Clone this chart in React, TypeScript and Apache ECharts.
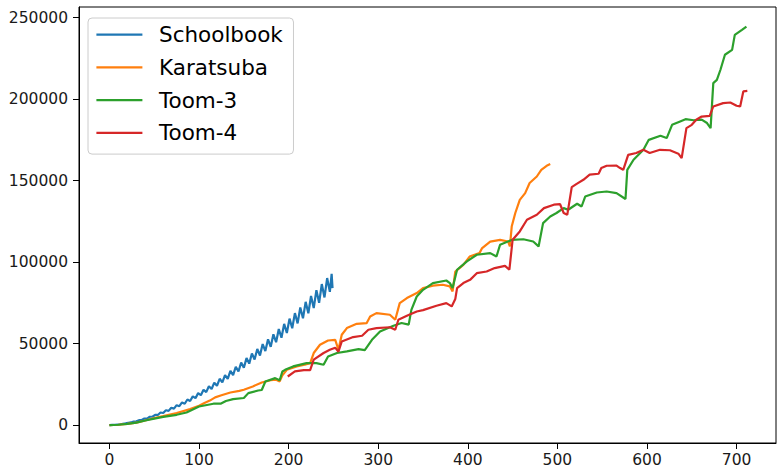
import React, { useEffect, useRef } from "react";
import * as echarts from "echarts";

const seriesNames = ["Schoolbook", "Karatsuba", "Toom-3", "Toom-4"];
const seriesColors = ["#1f77b4", "#ff7f0e", "#2ca02c", "#d62728"];

const xTicks = [0, 100, 200, 300, 400, 500, 600, 700];
const yTicks = [0, 50000, 100000, 150000, 200000, 250000];

const schoolbook: number[][] = [
  [0, 0], [3, 100], [6, 100], [9, 300], [12, 500], [15, 800], [18, 1000], [21, 1400], [24, 1600],
  [27, 2200], [30, 2300], [33, 3000], [36, 3100], [39, 4000], [42, 4000], [45, 5100], [48, 5100],
  [51, 6300], [54, 6200], [57, 7700], [60, 7400], [63, 9100], [66, 8700], [69, 10600], [72, 10100],
  [75, 12200], [78, 11600], [81, 13900], [84, 13100], [87, 15700], [90, 14800], [93, 17600], [96, 16500],
  [99, 19600], [102, 18300], [105, 21700], [108, 20200], [111, 23800], [114, 22100], [117, 26000],
  [120, 24100], [123, 28400], [126, 26200], [129, 30700], [132, 28400], [135, 33200], [138, 30600],
  [141, 35800], [144, 32900], [147, 38400], [150, 35200], [153, 41100], [156, 37700], [159, 43900],
  [162, 40200], [165, 46700], [168, 42700], [171, 49700], [174, 45400], [177, 52600], [180, 48000],
  [183, 55700], [186, 50800], [189, 58900], [192, 53600], [195, 62100], [198, 56500], [201, 65300],
  [204, 59400], [207, 68700], [210, 62400], [213, 72100], [216, 65500], [219, 75600], [222, 68600],
  [225, 79200], [228, 71800], [231, 82800], [234, 75000], [237, 86500], [240, 78300], [243, 90200],
  [246, 81700], [248, 92800], [249, 84000],
];

const karatsuba: number[][] = [
  [0, 0], [10, 200], [20, 700], [30, 1500], [40, 2800], [50, 4300], [60, 5500], [75, 7400],
  [90, 9800], [100, 11800], [106, 13500], [112, 15000], [118, 17000], [125, 18300], [135, 20000],
  [145, 21000], [150, 21700], [160, 23700], [170, 26100], [180, 27500], [186, 27800], [190, 26800],
  [193, 30500], [198, 33900], [209, 36000], [218, 37000], [224, 38000], [228, 44200], [235, 49300],
  [244, 51900], [252, 52300], [255.6, 46200], [259.3, 55400], [265, 59500], [276, 62100], [287, 62500],
  [291, 66600], [298, 68700], [313, 67700], [319, 64600], [324, 74800], [332, 77900], [343, 81000],
  [350, 84000], [361, 85500], [372, 86100], [380, 85100], [383, 82000], [386, 94200], [395, 98300],
  [402, 103400], [413, 105500], [416, 108600], [425, 112600], [436, 113600], [445, 112600],
  [447, 109600], [449, 121800], [453, 130100], [458, 138200], [464, 142300], [469, 148500],
  [477, 152500], [482, 156600], [488, 159100], [492, 160100],
];

const toom3: number[][] = [
  [0, 0], [10, 200], [20, 700], [30, 1500], [40, 2800], [50, 4000], [60, 5000], [75, 6300],
  [86, 7700], [100, 11400], [116, 13100], [124, 13100], [130, 14800], [138, 15900], [150, 16600],
  [155, 19600], [166, 21200], [170, 21500], [174, 26700], [185, 28800], [190, 27500], [193, 32900],
  [196, 33900], [205, 36000], [220, 38000], [231, 38000], [239, 37000], [244, 42100], [254, 44200],
  [265, 45200], [278, 46600], [285, 46000], [293, 52300], [302, 57400], [317, 60900], [326, 62600],
  [334, 61600], [337, 70700], [343, 78900], [350, 83000], [361, 87100], [376, 88700], [380, 87100],
  [383, 84100], [388, 95300], [399, 100400], [410, 104500], [425, 105500], [432, 103400],
  [436, 110600], [449, 113600], [462, 114000], [473, 112600], [479, 109600], [484, 123900],
  [492, 128000], [499, 130100], [507, 133100], [512, 132100], [522, 135800], [527, 134100],
  [531, 140200], [544, 142700], [555, 143300], [566, 142300], [576, 138700], [578, 156600],
  [585, 162800], [596, 168900], [602, 175000], [615, 177500], [622, 176100], [628, 184200],
  [637, 186300], [643, 187700], [652, 187000], [661, 187400], [667, 185300], [671, 182200],
  [674, 209800], [678, 211800], [682, 218000], [687, 227200], [695, 230200], [698, 239400],
  [706, 242500], [711, 244500],
];

const toom4: number[][] = [
  [199, 29800], [207, 32900], [217, 33700], [224, 33700], [228, 40100], [239, 44200], [246, 46200],
  [252, 47500], [255.6, 45000], [259.3, 51300], [272, 54000], [282, 54800], [289, 58500],
  [298, 59500], [313, 60000], [319, 58500], [322.5, 64600], [332, 67000], [343, 69700], [350, 70500],
  [365, 73200], [376, 74800], [382, 72800], [386, 77300], [388, 84000], [395, 87100], [402.5, 89100],
  [410, 93200], [421, 94200], [430, 96300], [441.5, 97700], [446.4, 95300], [450, 113700],
  [458, 118800], [466, 126000], [477, 129000], [485, 133100], [496, 135200], [503, 135500],
  [507, 130100], [511, 129000], [516, 146000], [521.5, 148000], [529, 150500], [536, 153600],
  [546, 154200], [549, 157700], [555, 159100], [566, 159200], [570, 157700], [573.5, 156600],
  [579, 165800], [588, 166900], [596, 168900], [603, 166900], [614.5, 168900], [625.6, 168600],
  [635, 166500], [638.7, 163800], [644, 182200], [650, 184200], [655, 187300], [661, 189300],
  [670, 189700], [674, 195500], [685, 197500], [693, 197900], [700, 195900], [704, 195500],
  [707.5, 204700], [712, 205000],
];

const allData = [schoolbook, karatsuba, toom3, toom4];

export default function App() {
  const ref = useRef<HTMLDivElement>(null);
  useEffect(() => {
    if (!ref.current) return;
    const chart = echarts.init(ref.current, undefined, { renderer: "svg" });
    const font = "DejaVu Sans";
    const axisCommon = {
      type: "value" as const,
      splitLine: { show: false },
      axisLine: { show: true, onZero: false, lineStyle: { color: "#000", width: 1 } },
      axisTick: { show: true, length: 6, lineStyle: { color: "#000", width: 1 } },
    };
    chart.setOption({
      animation: false,
      backgroundColor: "#fff",
      grid: {
        left: 79,
        right: 1,
        top: 7,
        bottom: 27,
        show: true,
        borderColor: "#000",
        borderWidth: 1,
        backgroundColor: "transparent",
      },
      xAxis: {
        ...axisCommon,
        min: -34,
        max: 744,
        axisTick: { ...axisCommon.axisTick, customValues: xTicks },
        axisLabel: {
          customValues: xTicks,
          color: "#1a1a1a",
          fontFamily: font,
          fontSize: 15.5,
          margin: 9,
          formatter: (v: number) => String(v),
        },
      },
      yAxis: {
        ...axisCommon,
        min: -11000,
        max: 256500,
        axisTick: { ...axisCommon.axisTick, customValues: yTicks },
        axisLabel: {
          customValues: yTicks,
          color: "#1a1a1a",
          fontFamily: font,
          fontSize: 15.5,
          margin: 11,
          formatter: (v: number) => String(v),
        },
      },
      legend: {
        orient: "vertical",
        left: 88,
        top: 18,
        data: seriesNames,
        icon: "rect",
        itemWidth: 46,
        itemHeight: 2.3,
        itemGap: 6.7,
        padding: [3.7, 10.7, 8.3, 8.4],
        backgroundColor: "rgba(255,255,255,0.8)",
        borderColor: "#cccccc",
        borderWidth: 1,
        borderRadius: 4,
        textStyle: {
          color: "#000",
          fontFamily: font,
          fontSize: 21.5,
          lineHeight: 22,
          padding: [4, 0, 0, 11.6],
        },
      },
      series: seriesNames.map((name, i) => ({
        name,
        type: "line",
        data: allData[i],
        symbol: "none",
        showSymbol: false,
        color: seriesColors[i],
        lineStyle: { color: seriesColors[i], width: 2.2 },
        z: 2 + i,
      })),
    });
    return () => chart.dispose();
  }, []);
  return (
    <div
      ref={ref}
      style={{ position: "fixed", left: 0, top: 0, width: 777, height: 470, background: "#fff" }}
    />
  );
}
